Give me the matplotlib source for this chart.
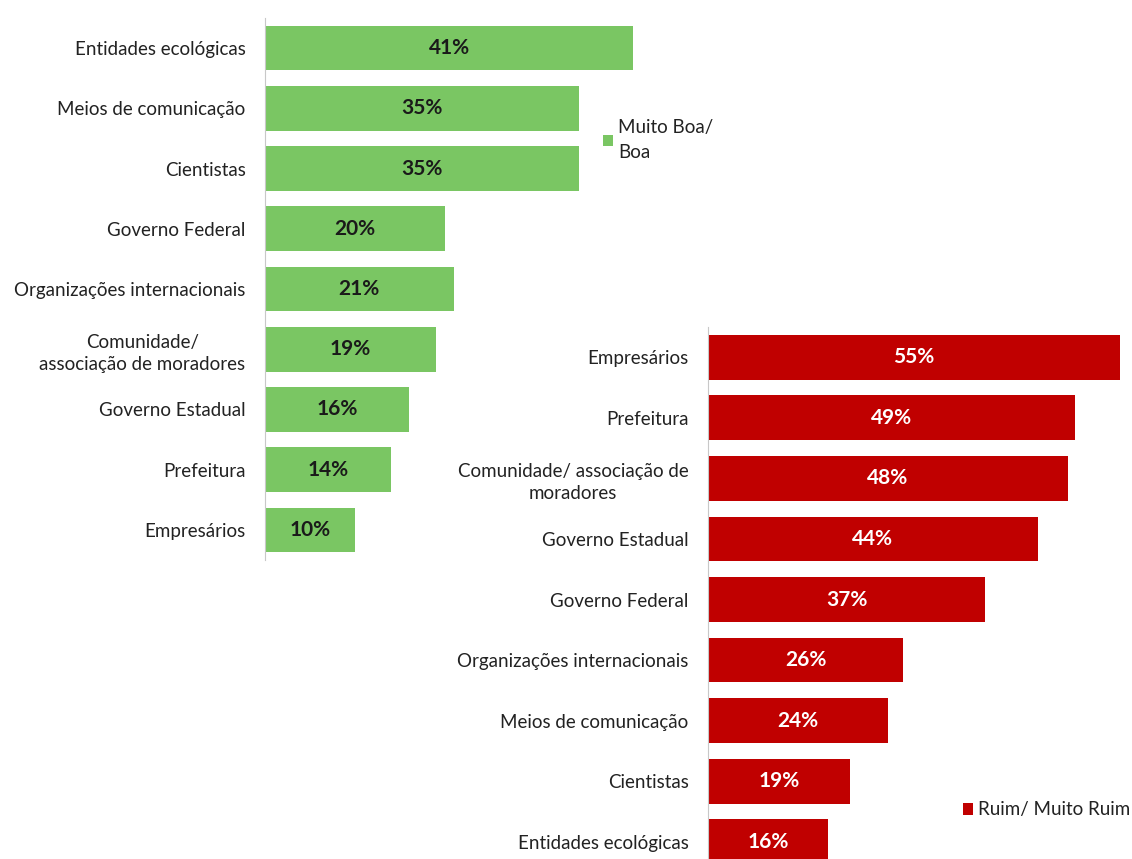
import matplotlib.pyplot as plt

plt.rcParams['font.family'] = ['Lato', 'DejaVu Sans']

# dados: avaliação positiva
cat_boa = ['Entidades ecológicas', 'Meios de comunicação', 'Cientistas', 'Governo Federal',
           'Organizações internacionais', 'Comunidade/\nassociação de moradores',
           'Governo Estadual', 'Prefeitura', 'Empresários']
val_boa = [41, 35, 35, 20, 21, 19, 16, 14, 10]

# dados: avaliação negativa
cat_ruim = ['Empresários', 'Prefeitura', 'Comunidade/ associação de\nmoradores', 'Governo Estadual',
            'Governo Federal', 'Organizações internacionais', 'Meios de comunicação',
            'Cientistas', 'Entidades ecológicas']
val_ruim = [55, 49, 48, 44, 37, 26, 24, 19, 16]

verde = '#7AC663'
vermelho = '#C00000'
W, H = 1132, 859

fig = plt.figure(figsize=(W / 100, H / 100), dpi=100)

ax1 = fig.add_axes([265 / W, 1 - 560 / H, 404 / W, 542 / H])
ax2 = fig.add_axes([708 / W, 1 - 872 / H, 416 / W, 545 / H])


def painel(ax, cats, vals, cor, cor_txt, xmax, rotulo):
    y = list(range(len(cats)))
    barras = ax.barh(y, vals, height=0.74, color=cor, label=rotulo)
    ax.set_xlim(0, xmax)
    ax.set_ylim(len(cats) - 0.5, -0.5)
    ax.set_yticks(y)
    ax.set_yticklabels(cats, fontsize=13.5, color='#222222', multialignment='center',
                       linespacing=1.35)
    ax.set_xticks([])
    ax.tick_params(axis='y', length=0, pad=14)
    for s in ['top', 'right', 'bottom']:
        ax.spines[s].set_visible(False)
    ax.spines['left'].set_color('#C8C8C8')
    ax.spines['left'].set_linewidth(0.8)
    for b, v in zip(barras, vals):
        ax.text(b.get_width() / 2, b.get_y() + b.get_height() / 2, f'{v}%',
                ha='center', va='center', fontsize=15, fontweight='bold', color=cor_txt)
    return barras


painel(ax1, cat_boa, val_boa, verde, '#1a1a1a', 45, 'Muito Boa/\nBoa')
painel(ax2, cat_ruim, val_ruim, vermelho, 'white', 55.5, 'Ruim/ Muito Ruim')

leg1 = ax1.legend(loc='upper left', bbox_to_anchor=(595 / W, 1 - 112 / H),
                  bbox_transform=fig.transFigure, frameon=False, fontsize=13.5,
                  handlelength=0.55, handleheight=0.55, handletextpad=0.27, borderaxespad=0)
leg2 = ax2.legend(loc='upper left', bbox_to_anchor=(955 / W, 1 - 794 / H),
                  bbox_transform=fig.transFigure, frameon=False, fontsize=13.5,
                  handlelength=0.55, handleheight=0.55, handletextpad=0.27, borderaxespad=0)
for lg in (leg1, leg2):
    for t in lg.get_texts():
        t.set_color('#222222')
        t.set_linespacing(1.5)

fig.savefig('out.png', dpi=100)
